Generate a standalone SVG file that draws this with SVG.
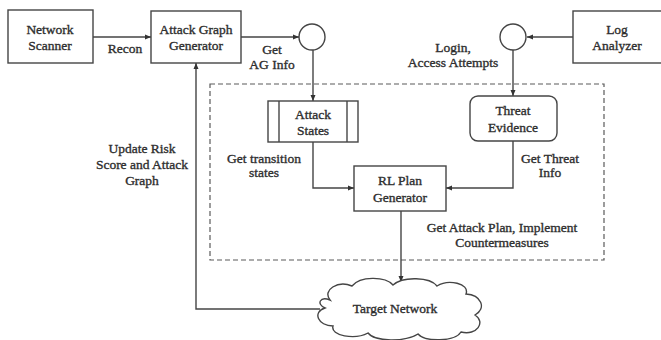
<svg xmlns="http://www.w3.org/2000/svg" width="661" height="340" viewBox="0 0 661 340">
  <defs>
    <style>
      .box { fill: #ffffff; stroke: #454545; stroke-width: 1.4; }
      .wire { fill: none; stroke: #454545; stroke-width: 1.4; }
      .zone { fill: none; stroke: #5a5a5a; stroke-width: 1.2; stroke-dasharray: 5 3; }
      text { font-family: "Liberation Serif", "Times New Roman", serif; font-size: 13.5px; fill: #2e2e2e; stroke: #2e2e2e; stroke-width: 0.35px; text-anchor: middle; }
    </style>
    <marker id="arrow" viewBox="0 0 6 6" refX="6" refY="3" markerWidth="6" markerHeight="6" markerUnits="userSpaceOnUse" orient="auto">
      <path d="M0,0.5 L6,3 L0,5.5 Z" fill="#333"/>
    </marker>
  </defs>

  <rect width="661" height="340" fill="#ffffff"/>

  <!-- trusted zone boundary -->
  <rect class="zone" x="210" y="84" width="394" height="176"/>

  <!-- connectors -->
  <g id="connectors">
    <line class="wire" x1="93" y1="37" x2="151" y2="37" marker-end="url(#arrow)"/>
    <line class="wire" x1="241" y1="37" x2="299" y2="37" marker-end="url(#arrow)"/>
    <line class="wire" x1="313" y1="50" x2="313" y2="101" marker-end="url(#arrow)"/>
    <line class="wire" x1="573" y1="37" x2="527" y2="37" marker-end="url(#arrow)"/>
    <line class="wire" x1="513" y1="50" x2="513" y2="96" marker-end="url(#arrow)"/>
    <polyline class="wire" points="313,142 313,188 354,188" marker-end="url(#arrow)"/>
    <polyline class="wire" points="513,141 513,188 446,188" marker-end="url(#arrow)"/>
    <line class="wire" x1="401" y1="211" x2="401" y2="282" marker-end="url(#arrow)"/>
    <polyline class="wire" points="320,309 196,309 196,63" marker-end="url(#arrow)"/>
    <text x="125" y="53">Recon</text>
    <text x="272" y="54">Get</text>
    <text x="272" y="69">AG Info</text>
    <text x="453" y="52">Login,</text>
    <text x="453" y="67">Access Attempts</text>
    <text x="264" y="163">Get transition</text>
    <text x="264" y="177">states</text>
    <text x="550" y="163">Get Threat</text>
    <text x="550" y="177">Info</text>
    <text x="502" y="232">Get Attack Plan, Implement</text>
    <text x="502" y="247">Countermeasures</text>
    <text x="142" y="153">Update Risk</text>
    <text x="142" y="169">Score and Attack</text>
    <text x="142" y="185">Graph</text>
  </g>

  <g id="network-scanner">
    <rect class="box" x="8" y="10" width="85" height="53"/>
    <text x="50" y="34">Network</text>
    <text x="50" y="50">Scanner</text>
  </g>

  <g id="attack-graph-generator">
    <rect class="box" x="151" y="11" width="90" height="52"/>
    <text x="196" y="34">Attack Graph</text>
    <text x="196" y="50">Generator</text>
  </g>

  <g id="ag-junction">
    <circle class="box" cx="312" cy="37" r="13"/>
  </g>

  <g id="log-junction">
    <circle class="box" cx="513" cy="37" r="13"/>
  </g>

  <g id="log-analyzer">
    <rect class="box" x="573" y="11" width="92" height="52"/>
    <text x="617" y="34">Log</text>
    <text x="617" y="50">Analyzer</text>
  </g>

  <g id="attack-states">
    <rect class="box" x="268" y="101" width="90" height="41"/>
    <line class="wire" x1="279" y1="101" x2="279" y2="142"/>
    <line class="wire" x1="347" y1="101" x2="347" y2="142"/>
    <text x="313" y="119">Attack</text>
    <text x="313" y="135">States</text>
  </g>

  <g id="threat-evidence">
    <rect class="box" x="470" y="96" width="87" height="45" rx="8" ry="8"/>
    <text x="513" y="115">Threat</text>
    <text x="513" y="132">Evidence</text>
  </g>

  <g id="rl-plan-generator">
    <rect class="box" x="354" y="166" width="92" height="45"/>
    <text x="400" y="185">RL Plan</text>
    <text x="400" y="202">Generator</text>
  </g>

  <g id="target-network">
    <path class="box" d="M330 300
      C322 290, 338 280, 352 286
      C360 276, 385 276, 393 285
      C403 276, 430 277, 437 286
      C448 279, 470 283, 466 294
      C481 295, 487 308, 475 315
      C486 322, 477 336, 461 332
      C455 342, 425 342, 418 334
      C405 342, 375 342, 368 333
      C355 340, 330 336, 333 326
      C318 326, 312 312, 325 308
      C316 304, 320 296, 330 300 Z"/>
    <text x="395" y="313">Target Network</text>
  </g>
</svg>
